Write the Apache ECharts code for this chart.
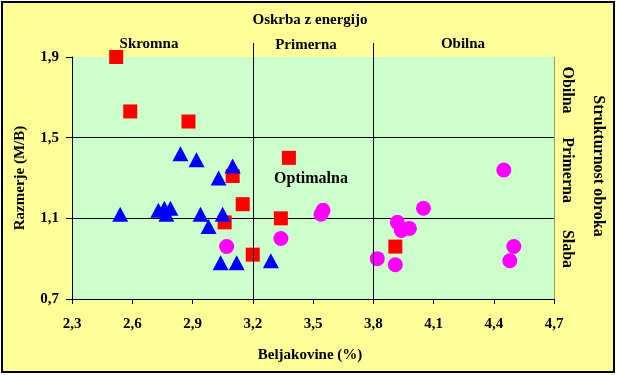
<!DOCTYPE html>
<html lang="sl">
<head>
<meta charset="UTF-8">
<title>Oskrba z energijo</title>
<script src="https://cdn.jsdelivr.net/npm/echarts@6/dist/echarts.min.js"></script>
<style>
  html, body { margin: 0; padding: 0; background: #ffffff; }
  #chart { width: 617px; height: 375px; }
</style>
</head>
<body>
<div id="chart"></div>
<script>
// points: [beljakovine %, razmerje M/B]
var redSquares = [
  [2.52, 1.90], [2.59, 1.63], [2.88, 1.58], [3.38, 1.40], [3.10, 1.31],
  [3.15, 1.17], [3.34, 1.10], [3.06, 1.08], [3.20, 0.92], [3.91, 0.96]
];
var blueTriangles = [
  [2.54, 1.12], [2.73, 1.14], [2.76, 1.15], [2.79, 1.15], [2.77, 1.12],
  [2.84, 1.42], [2.92, 1.39], [2.94, 1.12], [2.98, 1.06], [3.05, 1.12],
  [3.03, 1.30], [3.10, 1.36], [3.04, 0.88], [3.12, 0.88], [3.29, 0.89]
];
var magentaCircles = [
  [3.07, 0.96], [3.34, 1.00], [3.55, 1.14], [3.54, 1.12], [3.82, 0.90],
  [3.91, 0.87], [3.92, 1.08], [3.94, 1.04], [3.98, 1.05], [4.05, 1.15],
  [4.45, 1.34], [4.50, 0.96], [4.48, 0.89]
];

// quadrant dividers on the x axis (energy supply)
var xDividers = [3.2, 3.8];

var xMin = 2.3, xMax = 4.7, xStep = 0.3;
var yMin = 0.7, yMax = 1.9, yStep = 0.4;

var FONT = '"Liberation Serif", "Times New Roman", serif';

function comma(v) {
  return v.toFixed(1).replace('.', ',');
}

var chart = echarts.init(document.getElementById('chart'));

var option = {
  animation: false,
  backgroundColor: '#ffffff',
  grid: { left: 72, right: 63, top: 57, bottom: 76, show: true, backgroundColor: '#CCFFCC', borderWidth: 0 },
  xAxis: {
    type: 'value', min: xMin, max: xMax, interval: xStep,
    axisLine: { lineStyle: { color: '#000', width: 1 } },
    axisTick: { show: true, length: 5, lineStyle: { color: '#000' } },
    axisLabel: { formatter: comma, color: '#000', fontFamily: FONT, fontWeight: 'bold', fontSize: 15, margin: 18 },
    splitLine: { show: false }
  },
  yAxis: {
    type: 'value', min: yMin, max: yMax, interval: yStep,
    axisLine: { show: true, lineStyle: { color: '#000', width: 1 } },
    axisTick: { show: true, length: 6, lineStyle: { color: '#000' } },
    axisLabel: { formatter: comma, color: '#000', fontFamily: FONT, fontWeight: 'bold', fontSize: 15, margin: 13 },
    splitLine: { show: true, showMinLine: false, showMaxLine: false, lineStyle: { color: '#000', width: 1 } }
  },
  series: [
    {
      type: 'scatter', data: redSquares, symbol: 'rect', symbolSize: 14,
      itemStyle: { color: '#FF0000', opacity: 1 }, z: 3
    },
    {
      type: 'scatter', data: blueTriangles, symbol: 'triangle', symbolSize: [16, 15],
      itemStyle: { color: '#0000FF', opacity: 1 }, z: 4
    },
    {
      type: 'scatter', data: magentaCircles, symbol: 'circle', symbolSize: 15,
      itemStyle: { color: '#FF00FF', opacity: 1 }, z: 5
    }
  ]
};

chart.setOption(option);

// frame, divider lines (extended above the plot) and all the free texts
function addOverlay() {
  var plotTop = chart.convertToPixel({ gridIndex: 0 }, [xMin, yMax])[1];
  var plotBottom = chart.convertToPixel({ gridIndex: 0 }, [xMin, yMin])[1];
  var plotRight = Math.round(chart.convertToPixel({ gridIndex: 0 }, [xMax, yMin])[0]) + 0.5;

  var graphics = [
    { type: 'rect', z: -10, silent: true,
      shape: { x: 2, y: 2, width: 612, height: 370 },
      style: { fill: '#FFFF99', stroke: '#000', lineWidth: 2 } },
    { type: 'line', z: 10, silent: true,
      shape: { x1: plotRight, y1: plotTop, x2: plotRight, y2: plotBottom },
      style: { stroke: '#999966', lineWidth: 1 } }
  ];

  xDividers.forEach(function (v) {
    var px = Math.round(chart.convertToPixel({ gridIndex: 0 }, [v, yMin])[0]) + 0.5;
    graphics.push({ type: 'line', z: 10, silent: true,
      shape: { x1: px, y1: plotTop - 14, x2: px, y2: plotBottom },
      style: { stroke: '#000', lineWidth: 1 } });
  });

  function txt(s, x, y, size, rot) {
    return { type: 'text', z: 20, silent: true, x: x, y: y, rotation: rot || 0,
      style: { text: s, fill: '#000', font: 'bold ' + size + 'px ' + FONT, align: 'center', verticalAlign: 'middle' } };
  }

  graphics.push(
    txt('Oskrba z energijo', 310, 20, 15),
    txt('Skromna', 149, 44, 15),
    txt('Primerna', 306, 45, 15),
    txt('Obilna', 463, 44, 15),
    txt('Optimalna', 311, 179, 16),
    txt('Beljakovine (%)', 310, 355, 15),
    txt('Razmerje (M/B)', 20, 178, 15, Math.PI / 2),
    txt('Strukturnost obroka', 598, 166, 16, -Math.PI / 2),
    txt('Obilna', 567, 90, 16, -Math.PI / 2),
    txt('Primerna', 567, 170, 16, -Math.PI / 2),
    txt('Slaba', 567, 249, 16, -Math.PI / 2)
  );

  chart.setOption({ graphic: graphics });
}

addOverlay();
</script>
</body>
</html>
